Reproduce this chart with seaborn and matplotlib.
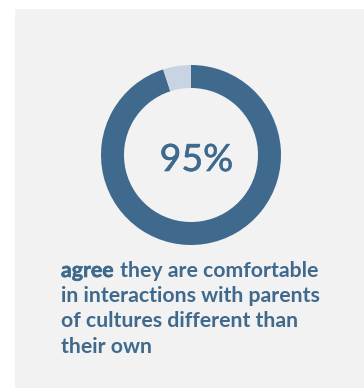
import matplotlib
matplotlib.use("Agg")
import matplotlib.pyplot as plt
import matplotlib.patheffects as pe
import seaborn as sns
from matplotlib.patches import Rectangle

# Survey result shown as a donut
labels = ["agree", "other"]
values = [95, 5]
headline = "95%"
caption_bold = "agree"
caption_lines = [
    " they are comfortable",
    "in interactions with parents",
    "of cultures different than",
    "their own",
]

DARK = "#3f6a8e"
LIGHT = "#c9d4e3"
PANEL = "#f2f2f2"

sns.set_theme(style="white")
plt.rcParams["font.family"] = ["Lato", "DejaVu Sans"]

W, H = 364, 389
fig = plt.figure(figsize=(W / 100, H / 100), dpi=100, facecolor="white")

# Gray card behind everything
fig.patches.append(Rectangle((15 / W, 1 / H), 1 - 15 / W, 1 - 10 / H,
                             transform=fig.transFigure, facecolor=PANEL,
                             edgecolor="none", zorder=-5))

cx, cy, r = 191, 155, 90
ax = fig.add_axes([(cx - r) / W, (H - cy - r) / H, 2 * r / W, 2 * r / H])
ax.set_zorder(2)
ax.set_facecolor("none")
ax.pie(values, colors=[DARK, LIGHT], startangle=90, counterclock=False,
       radius=1, wedgeprops=dict(width=23 / 90, edgecolor="none", linewidth=0))
ax.set_xlim(-1, 1)
ax.set_ylim(-1, 1)
ax.axis("off")

fig.text(196.5 / W, 1 - 160 / H, headline, ha="center", va="center",
         fontsize=27, color=DARK, fontweight="normal", zorder=3,
         path_effects=[pe.withStroke(linewidth=0.45, foreground=DARK)])

# Caption: heavier lead word followed by bold text
x0 = 61 / W
baselines = [277, 302, 327, 353]
fs = 15.3
t0 = fig.text(x0, 1 - baselines[0] / H, caption_bold, fontsize=fs,
              fontweight="bold", color=DARK, va="baseline", ha="left",
              path_effects=[pe.withStroke(linewidth=0.45, foreground=DARK)])
fig.canvas.draw()
bb = t0.get_window_extent(renderer=fig.canvas.get_renderer())
fig.text((bb.x1 + 1) / W, 1 - baselines[0] / H, caption_lines[0],
         fontsize=fs, fontweight="bold", color=DARK, va="baseline", ha="left")
for line, yb in zip(caption_lines[1:], baselines[1:]):
    fig.text(x0, 1 - yb / H, line, fontsize=fs, fontweight="bold",
             color=DARK, va="baseline", ha="left")

fig.savefig("out.png", dpi=100, facecolor="white")
